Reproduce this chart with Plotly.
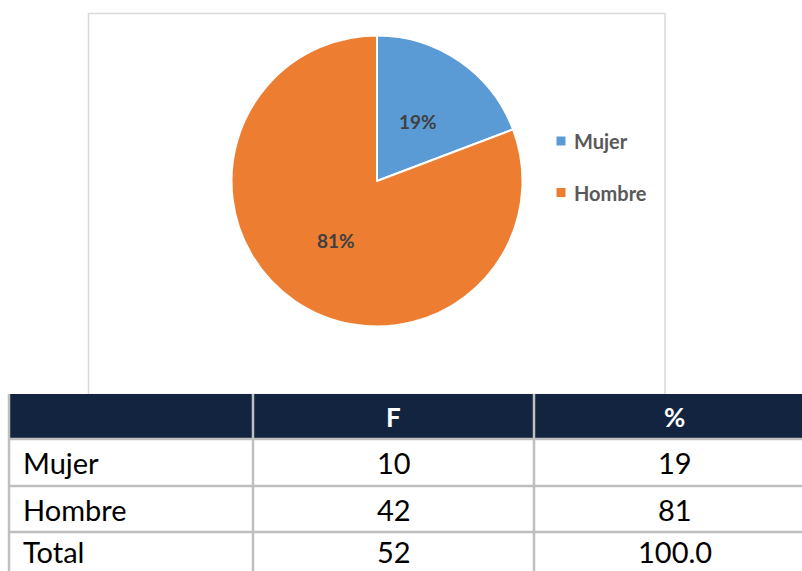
import math
import plotly.graph_objects as go

# ---- data ----
categories = ["Mujer", "Hombre"]
counts = [10, 42]
colors = ["#5B9BD5", "#ED7D31"]
table_header = ["", "F", "%"]
table_rows = ["Mujer", "Hombre", "Total"]
table_f = ["10", "42", "52"]
table_pct = ["19", "81", "100.0"]

W, H = 802, 571


def px(x):
    return x / W


def py(y):
    return 1 - y / H


def ann(x, y, text, font, xanchor="center"):
    return dict(x=px(x), y=py(y), xref="paper", yref="paper", xanchor=xanchor,
                yanchor="middle", text=text, showarrow=False, font=font)


# pie geometry (pixels)
cx, cy, r = 377, 181, 145.5

fig = go.Figure()
fig.add_trace(go.Pie(
    labels=categories, values=counts, sort=False, direction="clockwise", rotation=0,
    marker=dict(colors=colors, line=dict(color="white", width=2)),
    textinfo="none", hoverinfo="label+value+percent", showlegend=False,
    domain=dict(x=[px(cx - r), px(cx + r)], y=[py(cy + r), py(cy - r)]),
))

shapes = []
annotations = []

# chart area border
shapes.append(dict(type="rect", xref="paper", yref="paper",
                   x0=px(88.5), x1=px(665), y0=py(394.5), y1=py(13.5),
                   line=dict(color="#D9D9D9", width=1.5), fillcolor="rgba(0,0,0,0)", layer="below"))

# data labels
total = sum(counts)
cum = 0
for v in counts:
    theta = 2 * math.pi * (cum + v / 2) / total
    lx = cx + 0.5 * r * math.sin(theta)
    ly = cy - 0.5 * r * math.cos(theta)
    cum += v
    annotations.append(ann(lx, ly, f"<b>{round(100 * v / total)}%</b>",
                           dict(family="Lato", size=19, color="#404040")))

# legend
for i, (lab, col) in enumerate(zip(categories, colors)):
    yc = 141 + i * 51.5
    shapes.append(dict(type="rect", xref="paper", yref="paper",
                       x0=px(556.5), x1=px(565.5), y0=py(yc + 4.5), y1=py(yc - 4.5),
                       fillcolor=col, line=dict(width=0)))
    annotations.append(ann(572, yc, f"<b>{lab}</b>",
                           dict(family="Lato", size=20, color="#595959"), xanchor="left"))

# table
col_x = [9, 253, 534, 815]
row_y = [394, 439, 486, 532, 578]
grid = "#BFBFBF"
shapes.append(dict(type="rect", xref="paper", yref="paper",
                   x0=px(col_x[0]), x1=px(col_x[-1]), y0=py(row_y[1]), y1=py(row_y[0]),
                   fillcolor="#12243F", line=dict(width=0)))
for yv in row_y[1:]:
    shapes.append(dict(type="line", xref="paper", yref="paper",
                       x0=px(col_x[0]), x1=px(col_x[-1]), y0=py(yv), y1=py(yv),
                       line=dict(color=grid, width=2.5)))
for xv in col_x:
    shapes.append(dict(type="line", xref="paper", yref="paper",
                       x0=px(xv), x1=px(xv), y0=py(row_y[0]), y1=py(row_y[-1]),
                       line=dict(color=grid, width=2.5)))

for j, h in enumerate(table_header):
    if h:
        annotations.append(ann((col_x[j] + col_x[j + 1]) / 2, (row_y[0] + row_y[1]) / 2,
                               f"<b>{h}</b>", dict(family="Lato", size=26, color="white")))

body_font = dict(family="Lato", size=29, color="black")
for i, (lab, f, p) in enumerate(zip(table_rows, table_f, table_pct)):
    # keep the text box inside the page (last row is cut by the page edge)
    yc = min((row_y[i + 1] + row_y[i + 2]) / 2, H - 20)
    annotations.append(ann(21, yc, lab, body_font, xanchor="left"))
    annotations.append(ann((col_x[1] + col_x[2]) / 2, yc, f, body_font))
    annotations.append(ann((col_x[2] + col_x[3]) / 2, yc, p, body_font))

fig.update_layout(
    width=W, height=H, margin=dict(l=0, r=0, t=0, b=0),
    paper_bgcolor="white", plot_bgcolor="white",
    shapes=shapes, annotations=annotations, showlegend=False,
)

fig.write_html("out.html")
